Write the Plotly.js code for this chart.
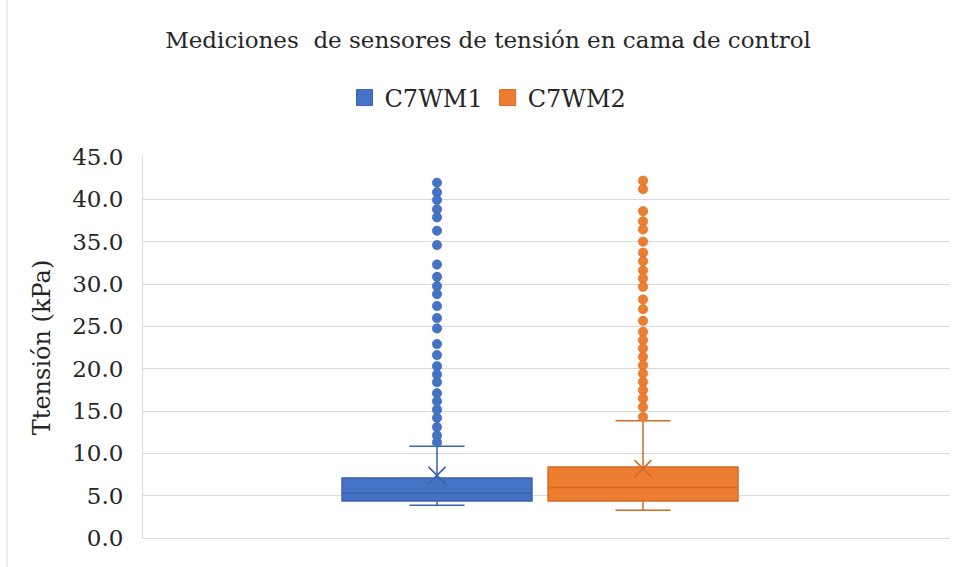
<!DOCTYPE html>
<html>
<head>
<meta charset="utf-8">
<script src="https://cdn.plot.ly/plotly-3.0.1.min.js"></script>
<style>html,body{margin:0;padding:0;background:#fff;}#chart{width:956px;height:567px;}</style>
</head>
<body>
<div id="chart"></div>
<script>
// ---- data ----
const seriesNames = ["C7WM1", "C7WM2"];
const seriesPos = [0, 1];
const q1Vals = [4.37, 4.37];
const medianVals = [5.3, 5.96];
const q3Vals = [7.1, 8.39];
const lowerFence = [3.87, 3.27];
const upperFence = [10.84, 13.85];
const meanVals = [7.4, 8.2];
const outliersC7WM1 = [41.96, 40.83, 39.92, 38.82, 37.87, 36.29, 34.6, 32.3, 30.85, 29.75, 28.8, 27.4,
  25.97, 24.75, 22.9, 21.6, 20.3, 19.3, 18.4, 17.1, 16.15, 15.15, 14.2, 13.1, 12.1, 11.3];
const outliersC7WM2 = [42.2, 41.2, 38.6, 37.4, 36.45, 35.0, 33.7, 32.7, 31.6, 30.66, 29.67, 28.18,
  27.03, 25.65, 24.35, 23.37, 22.39, 21.4, 20.4, 19.43, 18.44, 17.46, 16.48, 15.48, 14.3];
const yTickVals = [0, 5, 10, 15, 20, 25, 30, 35, 40, 45];

const fills = ["#4472C4", "#ED7D31"];
const edges = ["#3A63AE", "#D46A22"];
const outliers = [outliersC7WM1, outliersC7WM2];
const font = "'DejaVu Serif', 'Times New Roman', serif";

const traces = [];
seriesNames.forEach((name, i) => {
  traces.push({
    type: "box", name: name, showlegend: false, hoverinfo: "skip",
    x: [seriesPos[i]], q1: [q1Vals[i]], median: [medianVals[i]], q3: [q3Vals[i]],
    lowerfence: [lowerFence[i]], upperfence: [upperFence[i]],
    boxpoints: false, width: 0.922, whiskerwidth: 0.29,
    fillcolor: fills[i], line: {color: edges[i], width: 1.5}
  });
  traces.push({
    type: "scatter", mode: "markers", showlegend: false, hoverinfo: "y",
    x: outliers[i].map(() => seriesPos[i]), y: outliers[i],
    marker: {color: fills[i], size: 9.5, line: {color: edges[i], width: 0.5}}
  });
  traces.push({
    type: "scatter", mode: "markers", showlegend: false, hoverinfo: "y",
    x: [seriesPos[i]], y: [meanVals[i]],
    marker: {symbol: "x-thin-open", size: 17, color: edges[i], line: {color: edges[i], width: 1.6}}
  });
});
// legend entries
seriesNames.forEach((name, i) => {
  traces.push({
    type: "scatter", mode: "markers", name: name, x: [null], y: [null],
    marker: {symbol: "square", size: 20, color: fills[i], line: {color: edges[i], width: 1}}
  });
});

const layout = {
  width: 956, height: 567,
  paper_bgcolor: "#fff", plot_bgcolor: "#fff",
  margin: {l: 143, r: 6, t: 157, b: 29},
  title: {
    text: "Mediciones&nbsp; de sensores de tensión en cama de control",
    font: {family: font, size: 23, color: "#262626"},
    xref: "container", x: 0.5105, xanchor: "center",
    yref: "container", y: 1 - 40 / 567, yanchor: "middle"
  },
  showlegend: true,
  legend: {
    orientation: "h", xref: "container", x: 488 / 956, xanchor: "center",
    yref: "container", y: 1 - 98 / 567, yanchor: "middle",
    font: {family: font, size: 24, color: "#262626"},
    itemsizing: "trace", itemwidth: 30, tracegroupgap: 0
  },
  xaxis: {
    range: [-1.427, 2.49], showticklabels: false, showgrid: false, zeroline: false,
    showline: true, linecolor: "#D9D9D9", linewidth: 1, fixedrange: true
  },
  yaxis: {
    range: [0, 45], tickvals: yTickVals, tickformat: ".1f",
    showgrid: true, gridcolor: "#D9D9D9", gridwidth: 1, zeroline: false,
    showline: true, linecolor: "#D9D9D9", linewidth: 1,
    ticks: "", ticklabelstandoff: 14,
    tickfont: {family: font, size: 23, color: "#262626"},
    title: {text: "Ttensión (kPa)", font: {family: font, size: 24, color: "#262626"}, standoff: 14},
    automargin: false
  },
  shapes: [{
    type: "line", xref: "paper", yref: "paper",
    x0: (7 - 143) / 807, x1: (7 - 143) / 807,
    y0: (537.7 - 567) / 380.7, y1: 537.7 / 380.7,
    line: {color: "#D9D9D9", width: 1}
  }]
};

Plotly.newPlot("chart", traces, layout, {displayModeBar: false, staticPlot: true});
</script>
</body>
</html>
